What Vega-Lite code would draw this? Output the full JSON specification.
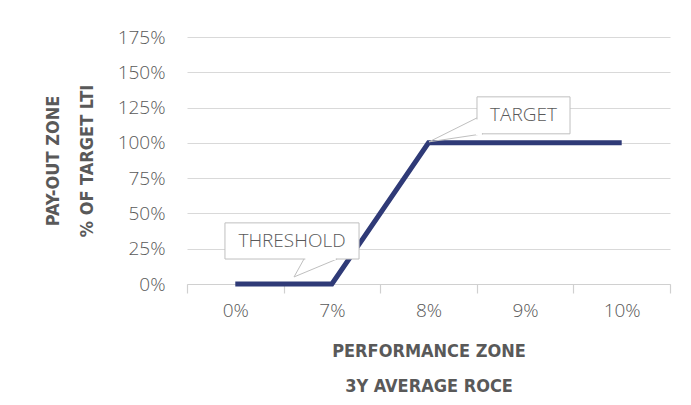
{
  "$schema": "https://vega.github.io/schema/vega-lite/v6.json",
  "width": 483,
  "height": 247,
  "autosize": {"type": "none"},
  "padding": {"left": 187, "top": 37, "right": 21, "bottom": 121},
  "background": "white",
  "config": {"view": {"stroke": null}},
  "datasets": {
    "curve": [
      {"roce": "0%", "payout": 0},
      {"roce": "7%", "payout": 0},
      {"roce": "8%", "payout": 1},
      {"roce": "9%", "payout": 1},
      {"roce": "10%", "payout": 1}
    ],
    "boxes": [
      {"label": "THRESHOLD", "x1": -0.107, "x2": 1.281, "y1": 0.177, "y2": 0.433, "tx": 0.587, "ty": 0.305},
      {"label": "TARGET", "x1": 2.502, "x2": 3.465, "y1": 1.064, "y2": 1.326, "tx": 2.983, "ty": 1.195}
    ],
    "pointers": [
      {"k": "th", "o": 1, "px": 0.711, "py": 0.177},
      {"k": "th", "o": 2, "px": 0.608, "py": 0.05},
      {"k": "th", "o": 3, "px": 1.053, "py": 0.177},
      {"k": "tg", "o": 1, "px": 2.502, "py": 1.177},
      {"k": "tg", "o": 2, "px": 2.005, "py": 1.007},
      {"k": "tg", "o": 3, "px": 2.564, "py": 1.064}
    ],
    "covers": [
      {"k": "th", "o": 1, "px": 0.725, "py": 0.177},
      {"k": "th", "o": 2, "px": 1.04, "py": 0.177},
      {"k": "tg", "o": 1, "px": 2.502, "py": 1.166},
      {"k": "tg", "o": 2, "px": 2.502, "py": 1.064},
      {"k": "tg", "o": 3, "px": 2.553, "py": 1.064}
    ]
  },
  "resolve": {"scale": {"x": "independent", "y": "independent"}},
  "layer": [
    {
      "data": {"name": "curve"},
      "mark": {"type": "line", "color": "#2f3a77", "strokeWidth": 5, "strokeCap": "butt", "strokeJoin": "miter"},
      "encoding": {
        "x": {
          "field": "roce",
          "type": "ordinal",
          "sort": null,
          "scale": {"type": "band", "paddingInner": 0, "paddingOuter": 0},
          "axis": {
            "title": ["PERFORMANCE ZONE", "3Y AVERAGE ROCE"],
            "tickBand": "extent",
            "labelAngle": 0,
            "labelFont": "Open Sans",
            "labelFontWeight": 300,
            "labelFontSize": 19,
            "labelColor": "#595959",
            "labelPadding": 8,
            "tickColor": "#d0d0d0",
            "tickSize": 9,
            "tickWidth": 1.2,
            "domainColor": "#d0d0d0",
            "domainWidth": 1.2,
            "grid": false,
            "titleFont": "DejaVu Sans Condensed, sans-serif",
            "titleFontWeight": "bold",
            "titleFontSize": 18,
            "titleColor": "#595959",
            "titleLineHeight": 35,
            "titlePadding": 22
          }
        },
        "y": {
          "field": "payout",
          "type": "quantitative",
          "scale": {"domain": [0, 1.75], "nice": false, "zero": true},
          "axis": {
            "title": ["PAY-OUT ZONE", "% OF TARGET LTI"],
            "values": [0, 0.25, 0.5, 0.75, 1, 1.25, 1.5, 1.75],
            "format": ".0%",
            "grid": true,
            "gridColor": "#d9d9d9",
            "gridWidth": 1.2,
            "domain": false,
            "ticks": false,
            "labelFont": "Open Sans",
            "labelFontWeight": 300,
            "labelFontSize": 19,
            "labelColor": "#595959",
            "labelPadding": 22,
            "titleFont": "DejaVu Sans Condensed, sans-serif",
            "titleFontWeight": "bold",
            "titleFontSize": 18,
            "titleColor": "#595959",
            "titleLineHeight": 34,
            "titlePadding": 21
          }
        }
      }
    },
    {
      "layer": [
        {
          "data": {"name": "boxes"},
          "mark": {"type": "rect", "fill": "white", "stroke": "#bfbfbf", "strokeWidth": 1},
          "encoding": {
            "x": {"field": "x1", "type": "quantitative", "scale": {"domain": [-0.5, 4.5], "nice": false, "zero": false}, "axis": null},
            "x2": {"field": "x2"},
            "y": {"field": "y1", "type": "quantitative", "scale": {"domain": [0, 1.75], "nice": false}, "axis": null},
            "y2": {"field": "y2"}
          }
        },
        {
          "data": {"name": "pointers"},
          "mark": {"type": "line", "color": "#bfbfbf", "strokeWidth": 1},
          "encoding": {
            "x": {"field": "px", "type": "quantitative", "axis": null},
            "y": {"field": "py", "type": "quantitative", "axis": null},
            "detail": {"field": "k"},
            "order": {"field": "o"}
          }
        },
        {
          "data": {"name": "covers"},
          "mark": {"type": "line", "color": "white", "strokeWidth": 2.2},
          "encoding": {
            "x": {"field": "px", "type": "quantitative", "axis": null},
            "y": {"field": "py", "type": "quantitative", "axis": null},
            "detail": {"field": "k"},
            "order": {"field": "o"}
          }
        },
        {
          "data": {"name": "boxes"},
          "mark": {"type": "text", "font": "Open Sans", "fontWeight": 300, "fontSize": 19, "color": "#595959", "align": "center", "baseline": "middle"},
          "encoding": {
            "x": {"field": "tx", "type": "quantitative", "axis": null},
            "y": {"field": "ty", "type": "quantitative", "axis": null},
            "text": {"field": "label"}
          }
        }
      ]
    }
  ]
}
